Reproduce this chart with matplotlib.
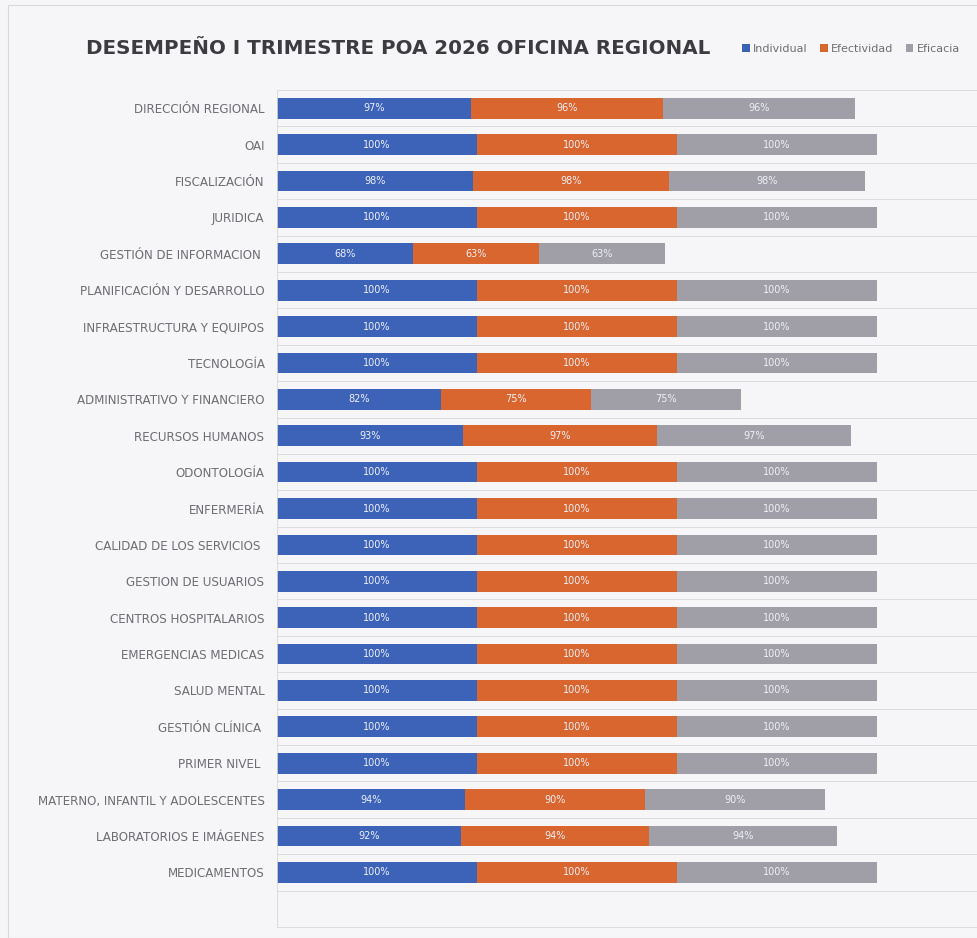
import matplotlib.pyplot as plt
import numpy as np
from matplotlib.patches import Rectangle

# data
areas = ['DIRECCIÓN REGIONAL', 'OAI', 'FISCALIZACIÓN', 'JURIDICA',
         'GESTIÓN DE INFORMACION ', 'PLANIFICACIÓN Y DESARROLLO',
         'INFRAESTRUCTURA Y EQUIPOS', 'TECNOLOGÍA', 'ADMINISTRATIVO Y FINANCIERO',
         'RECURSOS HUMANOS', 'ODONTOLOGÍA', 'ENFERMERÍA', 'CALIDAD DE LOS SERVICIOS ',
         'GESTION DE USUARIOS', 'CENTROS HOSPITALARIOS', 'EMERGENCIAS MEDICAS',
         'SALUD MENTAL', 'GESTIÓN CLÍNICA ', 'PRIMER NIVEL ',
         'MATERNO, INFANTIL Y ADOLESCENTES', 'LABORATORIOS E IMÁGENES', 'MEDICAMENTOS']
individual = [97, 100, 98, 100, 68, 100, 100, 100, 82, 93, 100, 100, 100,
              100, 100, 100, 100, 100, 100, 94, 92, 100]
efectividad = [96, 100, 98, 100, 63, 100, 100, 100, 75, 97, 100, 100, 100,
               100, 100, 100, 100, 100, 100, 90, 94, 100]
eficacia = [96, 100, 98, 100, 63, 100, 100, 100, 75, 97, 100, 100, 100,
            100, 100, 100, 100, 100, 100, 90, 94, 100]

series = [('Individual', individual, '#3d63b9'),
          ('Efectividad', efectividad, '#d9652f'),
          ('Eficacia', eficacia, '#a09fa7')]

bg = '#f6f6f9'
grid_col = '#d6d6dc'
fig = plt.figure(figsize=(9.78, 9.38), dpi=100, facecolor=bg)
ax = fig.add_axes([277/978, 1 - 927/938, 700/978, (927 - 90)/938])
ax.set_facecolor(bg)

y = np.arange(len(areas))
left = np.zeros(len(areas))
for name, vals, col in series:
    v = np.array(vals, dtype=float)
    bars = ax.barh(y, v, left=left, height=0.57, color=col, label=name)
    ax.bar_label(bars, labels=['%d%%' % x for x in vals], label_type='center',
                 color='#eef0f6', fontsize=7)
    left = left + v

ax.set_xlim(0, 350)
ax.set_ylim(len(areas) + 0.5, -0.5)
ax.set_yticks(y)
ax.set_yticklabels(areas, fontsize=8.6, color='#6e6e72')
ax.tick_params(axis='y', length=0, pad=9)
ax.set_xticks([])
ax.set_yticks(np.arange(-0.5, len(areas) + 1), minor=True)
ax.tick_params(axis='y', which='minor', length=0)
ax.grid(axis='y', which='minor', color=grid_col, lw=0.6)
ax.set_axisbelow(True)
for s in ['top', 'right']:
    ax.spines[s].set_visible(False)
for s in ['left', 'bottom']:
    ax.spines[s].set_color(grid_col)
    ax.spines[s].set_linewidth(0.6)

fig.text(86/978, 1 - 49/938, 'DESEMPEÑO I TRIMESTRE POA 2026 OFICINA REGIONAL',
         fontsize=14.3, fontweight='bold', color='#3c3c40', va='center', ha='left')

fig.legend(loc='center left', bbox_to_anchor=(742/978, 1 - 49/938), ncol=3,
           frameon=False, fontsize=8, handlelength=0.7, handleheight=0.7,
           handletextpad=0.3, columnspacing=1.1, labelcolor='#6e6e72',
           borderaxespad=0, borderpad=0)

# outer chart frame
fig.patches.append(Rectangle((8/978, 0), 1, 1 - 5/938, transform=fig.transFigure,
                             fill=False, ec='#d8d8de', lw=0.8))

fig.savefig('out.png', dpi=100, facecolor=bg)
